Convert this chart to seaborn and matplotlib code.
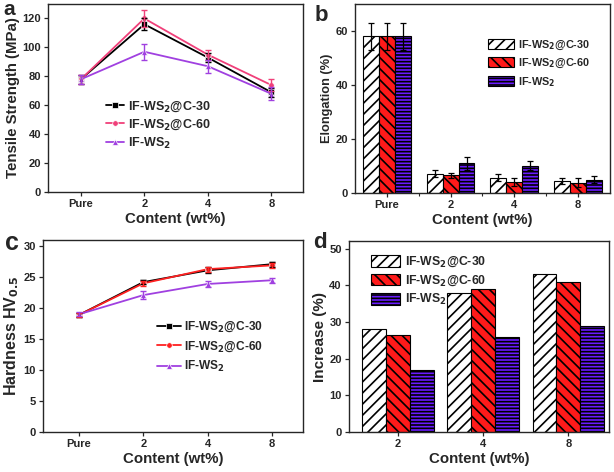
import numpy as np
import pandas as pd
import matplotlib
matplotlib.use("Agg")
import matplotlib.pyplot as plt
import seaborn as sns

# ---------------- data ----------------
series = ["IF-WS$_2$@C-30", "IF-WS$_2$@C-60", "IF-WS$_2$"]
cats4 = ["Pure", "2", "4", "8"]
cats3 = ["2", "4", "8"]

tensile_c30 = [78, 116, 93, 69]
tensile_c60 = [78, 120, 95, 74]
tensile_ws2 = [78, 97, 87, 68]
tensile_err_c30 = [3, 4, 3, 3]
tensile_err_c60 = [3, 6, 3.5, 4]
tensile_err_ws2 = [3, 5.5, 4.5, 4.5]

elong_c30 = [58, 7.2, 5.7, 4.4]
elong_c60 = [58, 6.5, 4.1, 3.8]
elong_ws2 = [58, 11.0, 10.1, 5.0]
elong_err_c30 = [5, 1.3, 1.2, 1.0]
elong_err_c60 = [5, 1.0, 1.4, 1.6]
elong_err_ws2 = [5, 2.5, 1.7, 1.4]

hard_c30 = [18.9, 24.2, 26.1, 27.1]
hard_c60 = [18.9, 24.0, 26.3, 26.9]
hard_ws2 = [19.0, 22.1, 23.9, 24.5]
hard_err_c30 = [0.3, 0.3, 0.5, 0.4]
hard_err_c60 = [0.3, 0.4, 0.4, 0.4]
hard_err_ws2 = [0.3, 0.6, 0.5, 0.4]

inc_c30 = [28, 38, 43]
inc_c60 = [26.5, 39, 41]
inc_ws2 = [17, 26, 29]

# ---------------- style ----------------
sns.set_style("ticks")
plt.rcParams["font.family"] = ["Liberation Sans", "DejaVu Sans"]
plt.rcParams["font.weight"] = "bold"
plt.rcParams["axes.labelweight"] = "bold"
plt.rcParams["axes.linewidth"] = 1.0
plt.rcParams["hatch.linewidth"] = 1.2
plt.rcParams["mathtext.default"] = "bf"

line_colors_a = ["#000000", "#f0407a", "#a040e0"]
line_colors_c = ["#000000", "#ff2020", "#a040e0"]
bar_colors = ["#ffffff", "#ff1a1a", "#6a1aff"]
hatches = ["///", "\\\\\\", "-----"]
markers = ["s", "o", "^"]

fig = plt.figure(figsize=(6.14, 4.72), dpi=100)
ax_a = fig.add_axes([0.078, 0.593, 0.4155, 0.3985])
ax_b = fig.add_axes([0.578, 0.591, 0.4155, 0.4005])
ax_c = fig.add_axes([0.070, 0.085, 0.4235, 0.4065])
ax_d = fig.add_axes([0.568, 0.085, 0.424, 0.404])

tick_fs = 8
xlabel_fs = 10.8


def line_panel(ax, vals, errs, colors, ylim, yticks, ylabel, ylabel_fs,
               leg_anchor, leg_fs, leg_space, leg_hl):
    rows = []
    for s, v in zip(series, vals):
        for i, (c, y) in enumerate(zip(cats4, v)):
            rows.append({"series": s, "pos": i, "value": y})
    df = pd.DataFrame(rows)
    sns.lineplot(data=df, x="pos", y="value", hue="series", style="series",
                 palette=dict(zip(series, colors)),
                 markers=dict(zip(series, markers)), dashes=False,
                 markersize=4, linewidth=1.3, markeredgewidth=0.5, ax=ax)
    for s, v, e, col in zip(series, vals, errs, colors):
        ax.errorbar(range(len(cats4)), v, yerr=e, fmt="none", ecolor=col,
                    elinewidth=1.0, capsize=2.5, capthick=1.0)
    ax.set_xticks(range(len(cats4)))
    ax.set_xticklabels(cats4)
    ax.set_ylim(*ylim)
    ax.set_yticks(yticks)
    ax.set_xlabel("Content (wt%)", fontsize=xlabel_fs, fontweight="bold")
    ax.set_ylabel(ylabel, fontsize=ylabel_fs, fontweight="bold")
    ax.legend(loc="upper left", bbox_to_anchor=leg_anchor, frameon=False,
              fontsize=leg_fs, handlelength=leg_hl, handletextpad=0.3,
              labelspacing=leg_space, borderaxespad=0)


def bar_panel(ax, cats, vals, errs, width_total, ylim, yticks, ylabel,
              ylabel_fs, leg_anchor, leg_fs, leg_space):
    rows = []
    for s, v in zip(series, vals):
        for c, y in zip(cats, v):
            rows.append({"series": s, "cat": c, "value": y})
    df = pd.DataFrame(rows)
    sns.barplot(data=df, x="cat", y="value", hue="series", order=cats,
                hue_order=series, palette=dict(zip(series, bar_colors)),
                width=width_total, errorbar=None, edgecolor="black",
                linewidth=0.8, saturation=1, ax=ax)
    bar_conts = list(ax.containers)
    for k, cont in enumerate(bar_conts):
        for p in cont.patches:
            p.set_hatch(hatches[k])
            p.set_edgecolor("black")
        if errs is not None:
            xs = [p.get_x() + p.get_width() / 2 for p in cont.patches]
            hs = [p.get_height() for p in cont.patches]
            ax.errorbar(xs, hs, yerr=errs[k], fmt="none", ecolor="black",
                        elinewidth=0.9, capsize=2.5, capthick=0.9)
    ax.set_ylim(*ylim)
    ax.set_yticks(yticks)
    ax.set_xlabel("Content (wt%)", fontsize=xlabel_fs, fontweight="bold")
    ax.set_ylabel(ylabel, fontsize=ylabel_fs, fontweight="bold")
    leg = ax.legend(loc="upper left", bbox_to_anchor=leg_anchor, frameon=False,
                    fontsize=leg_fs, handlelength=2.4, handleheight=1.1,
                    handletextpad=0.4, labelspacing=leg_space, borderaxespad=0)
    for k, h in enumerate(leg.legend_handles):
        h.set_hatch(hatches[k])
        h.set_edgecolor("black")


line_panel(ax_a, [tensile_c30, tensile_c60, tensile_ws2],
           [tensile_err_c30, tensile_err_c60, tensile_err_ws2],
           line_colors_a, (0, 130), range(0, 121, 20),
           "Tensile Strength (MPa)", 10.8, (0.21, 0.52), 9, 0.3, 1.4)
ax_a.set_xlim(-0.52, 3.5)

bar_panel(ax_b, cats4, [elong_c30, elong_c60, elong_ws2],
          [elong_err_c30, elong_err_c60, elong_err_ws2], 0.75,
          (0, 70), [0, 20, 40, 60], "Elongation (%)", 9.2,
          (0.505, 0.84), 7.8, 0.45)
ax_b.set_xlim(-0.5, 3.5)
ax_b.set_xticks([0.5, 1.5, 2.5], minor=True)

line_panel(ax_c, [hard_c30, hard_c60, hard_ws2],
           [hard_err_c30, hard_err_c60, hard_err_ws2],
           line_colors_c, (0, 31), range(0, 31, 5),
           "Hardness HV$_{0.5}$", 11.5, (0.42, 0.61), 8.6, 0.45, 2.0)
ax_c.set_xlim(-0.56, 3.48)

bar_panel(ax_d, cats3, [inc_c30, inc_c60, inc_ws2], None, 0.84,
          (0, 52), range(0, 51, 10), "Increase (%)", 11,
          (0.065, 0.955), 8.8, 0.35)
ax_d.set_xlim(-0.58, 2.48)

for ax in (ax_a, ax_b, ax_c, ax_d):
    ax.tick_params(axis="both", which="major", labelsize=tick_fs,
                   length=3, width=0.9, direction="out", pad=2)
    ax.tick_params(axis="x", which="minor", length=2, width=0.8)
    for lab in ax.get_xticklabels() + ax.get_yticklabels():
        lab.set_fontweight("bold")
    ax.xaxis.labelpad = 2
    ax.yaxis.labelpad = 2
    for sp in ax.spines.values():
        sp.set_visible(True)

fig.text(0.006, 0.969, "a", fontsize=15, fontweight="bold", ha="left", va="baseline")
fig.text(0.513, 0.9555, "b", fontsize=16, fontweight="bold", ha="left", va="baseline")
fig.text(0.008, 0.470, "c", fontsize=18, fontweight="bold", ha="left", va="baseline")
fig.text(0.510, 0.4746, "d", fontsize=16, fontweight="bold", ha="left", va="baseline")

fig.savefig("out.png", dpi=100)
